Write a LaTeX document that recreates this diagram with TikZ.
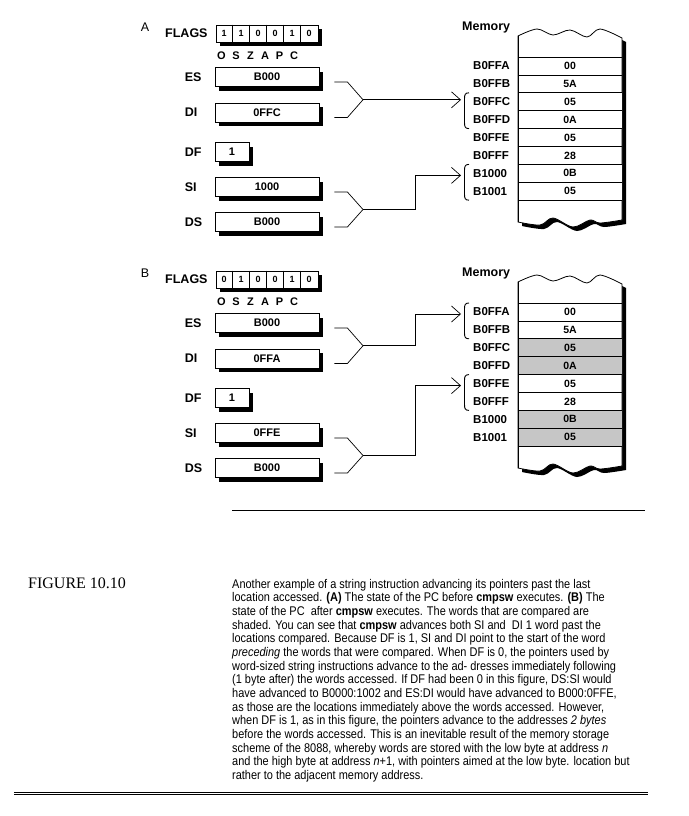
\documentclass[tikz,border=0pt]{standalone}
\usepackage{fontspec}
\setmainfont{Liberation Sans}
\newfontfamily\figfont{Liberation Serif}
\newfontfamily\captionfont[FakeStretch=0.87]{Liberation Sans}
\usetikzlibrary{positioning,shadows,arrows.meta,calc}

\tikzset{
  panel/.style={inner sep=0pt, font=\fontsize{12.5}{12.5}\selectfont},
  lbl/.style={anchor=west, inner sep=0pt, font=\bfseries\fontsize{12.5}{12.5}\selectfont},
  shadowed/.style={drop shadow={shadow xshift=4pt, shadow yshift=-4pt, opacity=1, fill=black}},
  regbox/.style={draw, fill=white, shadowed, line width=0.8pt, minimum width=104pt,
    minimum height=19pt, inner sep=0pt, font=\bfseries\fontsize{11}{11}\selectfont},
  flagbox/.style={draw, fill=white, shadowed, line width=0.8pt, minimum width=102pt,
    minimum height=17pt, inner sep=0pt},
  bit/.style={inner sep=0pt, font=\bfseries\fontsize{9}{9}\selectfont},
  flagname/.style={inner sep=0pt, font=\bfseries\fontsize{11}{11}\selectfont},
  addr/.style={anchor=west, inner sep=0pt, font=\bfseries\fontsize{11.5}{11.5}\selectfont},
  cell/.style={inner sep=0pt, font=\bfseries\fontsize{10.5}{10.5}\selectfont},
  conn/.style={line width=0.7pt},
  pointer/.style={conn, -{Straight Barb[length=9pt,width=16pt]}},
  brace/.style={line width=0.9pt},
}

% outline of the memory strip, torn at top and bottom
\newcommand\memedge{plot[smooth,tension=0.55] coordinates {(518,36) (537,29) (553,35)
  (570,30) (587,37) (600,29) (622,38)} -- (622,220)
  -- plot[smooth,tension=0.55] coordinates {(622,220) (600,223) (590,220) (573,227)
  (553,218) (540,225) (518,222)} -- cycle}

% #1 name, #2 shift, #3 flag bits, #4 DI, #5 SI, #6 shade,
% #7 upper row, #8 upper tip offset, #9 lower row
\newcommand\drawpanel[9]{
\begin{scope}[shift={(0,#2)}]
  \node[panel] (lab#1) at (145,27) {#1};
  \node[lbl] (flagsl#1) at (165,33.5) {FLAGS};
  \node[flagbox] (flags#1) at (267,33.5) {};
  \foreach \i in {1,...,5}
    \draw[line width=0.8pt] ($(flags#1.north west)+(17*\i,0)$) -- ($(flags#1.south west)+(17*\i,0)$);
  \foreach \b [count=\i] in {#3}
    \node[bit] (bit#1\i) at ($(flags#1.west)+(17*\i-8.5,0)$) {\b};
  \foreach \f [count=\i] in {O,S,Z,A,P,C}
    \node[flagname] (fn#1\i) at (207+14.5*\i,56) {\f};

  % registers
  \node[regbox] (es#1) at (267,77) {B000};
  \node[regbox] (di#1) at (267,112.5) {#4};
  \node[regbox, minimum width=34pt] (df#1) at (232,152) {1};
  \node[regbox] (si#1) at (267,187) {#5};
  \node[regbox] (ds#1) at (267,222) {B000};
  \foreach \rg/\rt in {es/ES,di/DI,df/DF,si/SI,ds/DS}
    \node[lbl] (lbl-\rg#1) at ($(\rg#1.west)+(-30,0)$) {\rt};

  \coordinate (join#1a) at (363,99.75);
  \coordinate (join#1b) at (363,209.5);
  \foreach \rg/\j in {es/a,di/a,si/b,ds/b}
    \draw[conn] ($(\rg#1.east)+(15,5)$) -- ++(13,0) -- (join#1\j);

  % memory
  \node[lbl] (meml#1) at (462,27) {Memory};
  \fill[black, shift={(4,4)}] \memedge;
  \filldraw[fill=white, line width=0.8pt] \memedge;
  \foreach \s in {2,3,6,7}
    \fill[#6] (518,57+17.9*\s) rectangle (622,74.9+17.9*\s);
  \foreach \ad/\vl [count=\i from 0] in {B0FFA/00,B0FFB/5A,B0FFC/05,B0FFD/0A,
      B0FFE/05,B0FFF/28,B1000/0B,B1001/05} {
    \draw[line width=0.8pt] (518,57+17.9*\i) -- (622,57+17.9*\i);
    \node[addr] (adr#1\i) at (473,65.95+17.9*\i) {\ad};
    \node[cell] (val#1\i) at (570,65.95+17.9*\i) {\vl};
  }
  \draw[line width=0.8pt] (518,200.2) -- (622,200.2);
  \draw[line width=0.8pt] (518,36) -- (518,222);

  % pointers into memory
  \coordinate (tip#1a) at (461,57+17.9*#7+#8);
  \coordinate (tip#1b) at (461,57+17.9*#9+11);
  \draw[pointer] (join#1a) -- ++(52,0) |- (tip#1a);
  \draw[pointer] (join#1b) -- ++(52,0) |- (tip#1b);
  \foreach \br in {#7,#9} {
    \pgfmathsetmacro\bt{57+17.9*\br}
    \pgfmathsetmacro\bb{\bt+35.8}
    \draw[brace] (469,\bt) .. controls (465,\bt) and (464.5,\bt+2) .. (464.5,\bt+6)
      -- (464.5,\bb-6) .. controls (464.5,\bb-2) and (465,\bb) .. (469,\bb);
  }
\end{scope}
}

\begin{document}
\begin{tikzpicture}[x=1pt,y=-1pt]
\path[use as bounding box, fill=white] (0,0) rectangle (688,816);

\drawpanel{A}{0}{1,1,0,0,1,0}{0FFC}{1000}{white}{2}{7}{6}
\drawpanel{B}{246}{0,1,0,0,1,0}{0FFA}{0FFE}{gray!45}{0}{11}{4}

% caption
\coordinate (rulel) at (232,510);
\coordinate (ruler) at (645,510);
\draw[line width=0.8pt] (rulel) -- (ruler);
\node[anchor=base west, inner sep=0pt, font=\figfont\fontsize{16}{16}\selectfont]
  (fignum) at (28,588) {FIGURE 10.10};
\node[anchor=north west, inner sep=0pt, align=left,
  font=\captionfont\fontsize{12.6}{13.65}\selectfont] (caption) at (232,579) {%
Another example of a string instruction advancing its pointers past the last\\
location accessed. \textbf{(A)} The state of the PC before \textbf{cmpsw} executes. \textbf{(B)} The\\
state of the PC\ \ after \textbf{cmpsw} executes. The words that are compared are\\
shaded. You can see that \textbf{cmpsw} advances both SI and\ \ DI 1 word past the\\
locations compared. Because DF is 1, SI and DI point to the start of the word\\
\textit{preceding} the words that were compared. When DF is 0, the pointers used by\\
word-sized string instructions advance to the ad- dresses immediately following\\
(1 byte after) the words accessed. If DF had been 0 in this figure, DS:SI would\\
have advanced to B0000:1002 and ES:DI would have advanced to B000:0FFE,\\
as those are the locations immediately above the words accessed. However,\\
when DF is 1, as in this figure, the pointers advance to the addresses \textit{2 bytes}\\
before the words accessed. This is an inevitable result of the memory storage\\
scheme of the 8088, whereby words are stored with the low byte at address \textit{n}\\
and the high byte at address \textit{n}+1, with pointers aimed at the low byte. location but\\
rather to the adjacent memory address.};
\coordinate (dbll) at (14,793.5);
\coordinate (dblr) at (648,793.5);
\draw[double, double distance=1.6pt, line width=0.8pt] (dbll) -- (dblr);
\end{tikzpicture}
\end{document}
